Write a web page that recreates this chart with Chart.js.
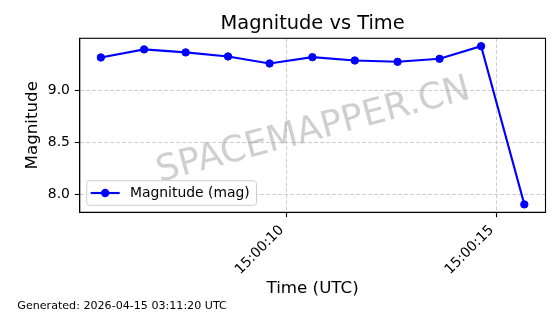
<!DOCTYPE html>
<html>
<head>
<meta charset="utf-8">
<script src="https://cdn.jsdelivr.net/npm/chart.js@4"></script>
<style>
  html, body { margin: 0; padding: 0; background: #fff; }
  canvas { display: block; }
</style>
</head>
<body>
<canvas id="magChart" width="560" height="314"></canvas>
<script>
const times = ['15:00:05.57', '15:00:06.60', '15:00:07.59', '15:00:08.60', '15:00:09.59', '15:00:10.61',
               '15:00:11.62', '15:00:12.64', '15:00:13.64', '15:00:14.63', '15:00:15.66'];
const magnitudes = [9.322, 9.400, 9.371, 9.332, 9.264, 9.325, 9.293, 9.280, 9.309, 9.431, 7.903];
const xTicks = ['15:00:10', '15:00:15'];
const yTicks = [8.0, 8.5, 9.0];
const seriesLabel = 'Magnitude (mag)';
const generatedText = 'Generated: 2026-04-15 03:11:20 UTC';
const watermark = 'SPACEMAPPER.CN';

const FONT = "'DejaVu Sans', 'Liberation Sans', sans-serif";

function toSec(t) {
  const p = t.split(':');
  return (+p[0]) * 3600 + (+p[1]) * 60 + parseFloat(p[2]);
}

const points = times.map((t, i) => ({ x: toSec(t), y: magnitudes[i] }));

// matplotlib style 5% margins
const xs = points.map(p => p.x);
const xMin = Math.min(...xs), xMax = Math.max(...xs);
const yMin = Math.min(...magnitudes), yMax = Math.max(...magnitudes);
const xPad = (xMax - xMin) * 0.05, yPad = (yMax - yMin) * 0.05;

const extras = {
  id: 'extras',
  beforeDatasetsDraw(chart) {
    const ctx = chart.ctx, a = chart.chartArea;
    ctx.save();
    ctx.translate((a.left + a.right) / 2, (a.top + a.bottom) / 2 + 2);
    ctx.rotate(-15 * Math.PI / 180);
    ctx.font = '36px ' + FONT;
    ctx.fillStyle = 'rgba(128,128,128,0.38)';
    ctx.textAlign = 'center';
    ctx.textBaseline = 'alphabetic';
    ctx.fillText(watermark, 0, 13);
    ctx.restore();
  },
  afterDatasetsDraw(chart) {
    const ctx = chart.ctx, a = chart.chartArea;
    // frame round the axes
    ctx.save();
    ctx.strokeStyle = '#000';
    ctx.lineWidth = 1.1;
    ctx.strokeRect(a.left, a.top, a.right - a.left, a.bottom - a.top);

    // legend, lower left inside the axes
    const ds = chart.data.datasets[0];
    ctx.font = '13.9px ' + FONT;
    const tw = ctx.measureText(ds.label).width;
    const bx = a.left + 7, bh = 24.6;
    const by = a.bottom - 7 - bh;
    const bw = 5.6 + 27.8 + 11.1 + tw + 5.6;
    const r = 3;
    ctx.beginPath();
    ctx.moveTo(bx + r, by);
    ctx.arcTo(bx + bw, by, bx + bw, by + bh, r);
    ctx.arcTo(bx + bw, by + bh, bx, by + bh, r);
    ctx.arcTo(bx, by + bh, bx, by, r);
    ctx.arcTo(bx, by, bx + bw, by, r);
    ctx.closePath();
    ctx.fillStyle = 'rgba(255,255,255,0.8)';
    ctx.fill();
    ctx.strokeStyle = '#cccccc';
    ctx.lineWidth = 1;
    ctx.stroke();
    const cy = by + bh / 2;
    ctx.strokeStyle = ds.borderColor;
    ctx.lineWidth = ds.borderWidth;
    ctx.beginPath();
    ctx.moveTo(bx + 4, cy);
    ctx.lineTo(bx + 4 + 29, cy);
    ctx.stroke();
    ctx.fillStyle = ds.pointBackgroundColor;
    ctx.beginPath();
    ctx.arc(bx + 4 + 14.5, cy, 4.2, 0, Math.PI * 2);
    ctx.fill();
    ctx.fillStyle = '#000';
    ctx.textAlign = 'left';
    ctx.textBaseline = 'middle';
    ctx.fillText(ds.label, bx + 43.3, cy);
    ctx.restore();
  },
  afterDraw(chart) {
    const ctx = chart.ctx;
    ctx.save();
    ctx.font = '11.1px ' + FONT;
    ctx.fillStyle = '#000';
    ctx.textAlign = 'left';
    ctx.textBaseline = 'alphabetic';
    ctx.fillText(generatedText, 17.3, 309);
    ctx.restore();
  }
};

const ctx = document.getElementById('magChart');
const chart = new Chart(ctx, {
  type: 'line',
  data: {
    datasets: [{
      label: seriesLabel,
      data: points,
      borderColor: '#0000ff',
      backgroundColor: '#0000ff',
      pointBackgroundColor: '#0000ff',
      pointBorderColor: '#0000ff',
      borderWidth: 2.1,
      pointRadius: 3.7,
      pointBorderWidth: 1,
      tension: 0,
      fill: false
    }]
  },
  options: {
    responsive: false,
    animation: false,
    events: [],
    layout: { padding: { left: 0, right: 14.5, top: 0, bottom: 0 } },
    plugins: {
      legend: { display: false },
      tooltip: { enabled: false },
      title: {
        display: true,
        text: 'Magnitude vs Time',
        fullSize: false,
        color: '#000',
        font: { family: FONT, size: 19.4, weight: 'normal', lineHeight: 1.2 },
        padding: { top: 12.2, bottom: 2.8 }
      }
    },
    scales: {
      x: {
        type: 'linear',
        min: xMin - xPad,
        max: xMax + xPad,
        afterBuildTicks(scale) {
          scale.ticks = xTicks.map(t => ({ value: toSec(t) }));
        },
        afterFit(scale) { scale.height = 101.7; },
        ticks: {
          autoSkip: false,
          maxRotation: 45,
          minRotation: 45,
          padding: 4.9,
          labelOffset: -5,
          color: '#000',
          font: { family: FONT, size: 13.9 },
          callback: (v, i) => xTicks[i]
        },
        grid: {
          color: '#c8c8c8',
          lineWidth: 0.9,
          tickColor: '#000',
          tickLength: 4.9,
          tickWidth: 1.1,
          tickBorderDash: []
        },
        border: { display: true, color: '#000', width: 1.1, dash: [4, 2] },
        title: {
          display: true,
          text: 'Time (UTC)',
          color: '#000',
          font: { family: FONT, size: 16.7, lineHeight: 1.2 },
          padding: { top: 0, bottom: 15.6 }
        }
      },
      y: {
        min: yMin - yPad,
        max: yMax + yPad,
        afterBuildTicks(scale) {
          scale.ticks = yTicks.map(v => ({ value: v }));
        },
        afterFit(scale) { scale.width = 79.7; },
        ticks: {
          padding: 4.9,
          color: '#000',
          font: { family: FONT, size: 13.9 },
          callback: v => v.toFixed(1)
        },
        grid: {
          color: '#c8c8c8',
          lineWidth: 0.9,
          tickColor: '#000',
          tickLength: 4.9,
          tickWidth: 1.1,
          tickBorderDash: []
        },
        border: { display: true, color: '#000', width: 1.1, dash: [4, 2] },
        title: {
          display: true,
          text: 'Magnitude',
          color: '#000',
          font: { family: FONT, size: 16.7, lineHeight: 1.2 },
          padding: { top: 23.1, bottom: 0 }
        }
      }
    }
  },
  plugins: [extras]
});
</script>
</body>
</html>
